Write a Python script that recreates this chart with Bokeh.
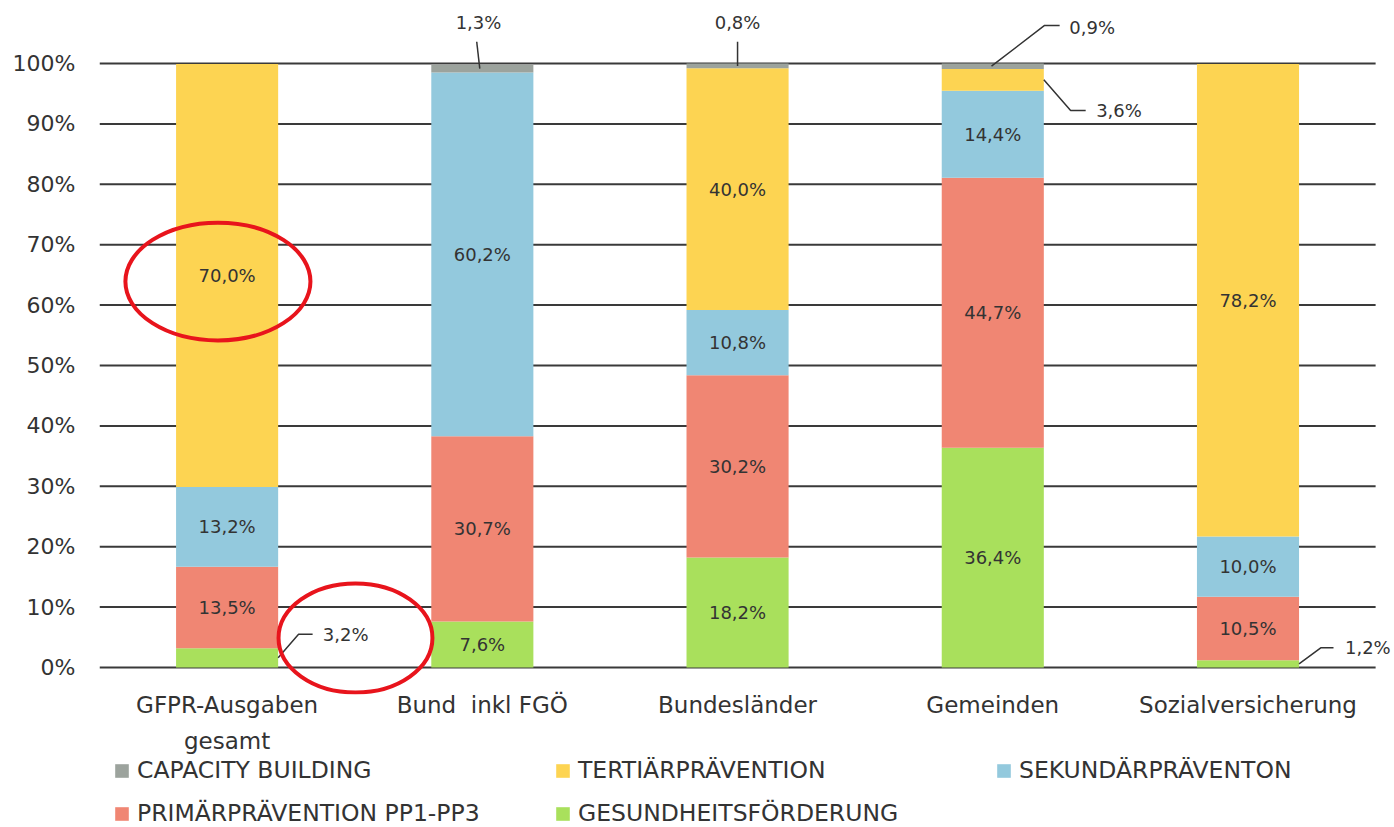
from bokeh.plotting import figure
from bokeh.layouts import column
from bokeh.models import (Range1d, FixedTicker, PrintfTickFormatter, Legend,
                          LegendItem, ColumnDataSource)
from bokeh.core.properties import value
from bokeh.embed import file_html
from bokeh.resources import INLINE

# ---------------- data ----------------
categories = ["GFPR-Ausgaben\ngesamt", "Bund\u00a0 inkl FGÖ", "Bundesländer",
              "Gemeinden", "Sozialversicherung"]
gesundheitsfoerderung = [3.2, 7.6, 18.2, 36.4, 1.2]
primaerpraevention = [13.5, 30.7, 30.2, 44.7, 10.5]
sekundaerpraevention = [13.2, 60.2, 10.8, 14.4, 10.0]
tertiaerpraevention = [70.0, 0.0, 40.0, 3.6, 78.2]
capacity_building = [0.0, 1.3, 0.8, 0.9, 0.0]
series_labels = ["GESUNDHEITSFÖRDERUNG", "PRIMÄRPRÄVENTION PP1-PP3",
                 "SEKUNDÄRPRÄVENTON", "TERTIÄRPRÄVENTION", "CAPACITY BUILDING"]
y_ticks = [0, 10, 20, 30, 40, 50, 60, 70, 80, 90, 100]

series = [gesundheitsfoerderung, primaerpraevention, sekundaerpraevention,
          tertiaerpraevention, capacity_building]
keys = ["g", "p", "s", "t", "c"]
colors = ["#A9E05C", "#F08673", "#93C9DD", "#FDD452", "#9CA39D"]

FONT_NAME = "DejaVu Sans"
FONT = value(FONT_NAME)
TEXT = "#333333"
BAR_W = 0.4
n = len(categories)
xs = [i + 0.5 for i in range(n)]


def fmt(v):
    return f"{v:.1f}".replace(".", ",") + "%"


p = figure(width=1394, height=757,
           x_range=Range1d(0, 5.074), y_range=Range1d(-4.47, 110.43),
           output_backend="svg", toolbar_location=None,
           min_border_left=99, min_border_right=0, min_border_top=0,
           min_border_bottom=63)
p.outline_line_color = None
p.xgrid.visible = False
p.ygrid.visible = False
p.background_fill_color = "white"

# horizontal grid lines (under the bars)
p.segment(x0=[0] * len(y_ticks), x1=[n] * len(y_ticks), y0=y_ticks, y1=y_ticks,
          line_color="#3a3a3a", line_width=2)

src = ColumnDataSource(dict(x=xs, **{k: v for k, v in zip(keys, series)}))
rs = p.vbar_stack(keys, x="x", width=BAR_W, fill_color=colors, line_color=None,
                  source=src)

# labels inside the bars
lx, ly, lt = [], [], []
for i in range(n):
    bottom = 0.0
    for s in series:
        v = s[i]
        if v >= 5:
            lx.append(xs[i]); ly.append(bottom + v / 2); lt.append(fmt(v))
        bottom += v
p.text(x=lx, y=ly, text=lt, text_align="center", text_baseline="middle",
       text_font=FONT, text_font_size="18px", text_color=TEXT)


# callouts for small segments
def seg_mid(i, k):
    b = sum(series[j][i] for j in range(k))
    return b + series[k][i] / 2


# (category, series, anchor dx, path offsets, text offset, align)
callout_layout = [
    (0, 0, BAR_W / 2, [(0.08, 3.9), (0.135, 3.9)], (0.175, 3.9), "left"),
    (1, 4, -0.01, [(-0.012, 4.45)], (-0.005, 7.6), "center"),
    (2, 4, 0.0, [(0.0, 4.0)], (0.0, 7.2), "center"),
    (3, 4, -0.005, [(0.208, 6.75), (0.267, 6.75)], (0.305, 6.4), "left"),
    (3, 3, BAR_W / 2, [(0.105, -5.1), (0.164, -5.1)], (0.205, -5.1), "left"),
    (4, 0, BAR_W / 2, [(0.085, 2.65), (0.135, 2.65)], (0.18, 2.65), "left"),
]
mxs, mys = [], []
for (i, k, adx, path, toff, align) in callout_layout:
    ax = xs[i] + adx
    ay = seg_mid(i, k)
    mxs.append([ax] + [ax + dx for dx, dy in path])
    mys.append([ay] + [ay + dy for dx, dy in path])
    p.text(x=[ax + toff[0]], y=[ay + toff[1]], text=[fmt(series[k][i])],
           text_align=align, text_baseline="middle", text_font=FONT,
           text_font_size="18px", text_color=TEXT)
p.multi_line(xs=mxs, ys=mys, line_color="#333333", line_width=1.5)

# red highlight ellipses
p.ellipse(x=[0.464, 1.003], y=[63.9, 4.88], width=[0.725, 0.603],
          height=[19.5, 18.05], fill_color=None, line_color="#E8141C",
          line_width=4)

# axes
p.yaxis.ticker = FixedTicker(ticks=y_ticks)
p.yaxis.formatter = PrintfTickFormatter(format="%d%%")
p.yaxis.axis_line_color = None
p.yaxis.major_tick_line_color = None
p.yaxis.minor_tick_line_color = None
p.yaxis.major_label_standoff = 18
p.yaxis.major_label_text_font = FONT_NAME
p.yaxis.major_label_text_font_size = "22px"
p.yaxis.major_label_text_color = TEXT

p.xaxis.ticker = FixedTicker(ticks=xs)
p.xaxis.major_label_overrides = {x: c for x, c in zip(xs, categories)}
p.xaxis.axis_line_color = None
p.xaxis.major_tick_line_color = None
p.xaxis.minor_tick_line_color = None
p.xaxis.major_label_standoff = -9
p.xaxis.major_label_text_font = FONT_NAME
p.xaxis.major_label_text_font_size = "23px"
p.xaxis.major_label_text_line_height = 1.4
p.xaxis.major_label_text_color = TEXT

# ---------------- legend (own strip below the chart) ----------------
lg = figure(width=1394, height=70, x_range=Range1d(0, 1), y_range=Range1d(0, 1),
            output_backend="svg", toolbar_location=None, min_border=0)
lg.axis.visible = False
lg.grid.visible = False
lg.outline_line_color = None
# zero-size proxy glyphs that only carry the legend swatch colours
proxies = [lg.vbar(x=[0], top=[0], width=0, fill_color=c, line_color=None)
           for c in colors]
order = [4, 3, 2, 1, 0]
items = [LegendItem(label=series_labels[k], renderers=[proxies[k]]) for k in order]
legend = Legend(items=items, location=(14, 0), orientation="horizontal",
                ncols=3, glyph_width=17, glyph_height=17, label_standoff=7,
                label_width=402, label_height=26, spacing=15, padding=0,
                margin=0, border_line_color=None, background_fill_alpha=0,
                label_text_font=FONT_NAME, label_text_font_size="23.5px",
                label_text_color=TEXT)
lg.add_layout(legend)

open("out.html", "w").write(file_html(column(p, lg, spacing=0), INLINE))
